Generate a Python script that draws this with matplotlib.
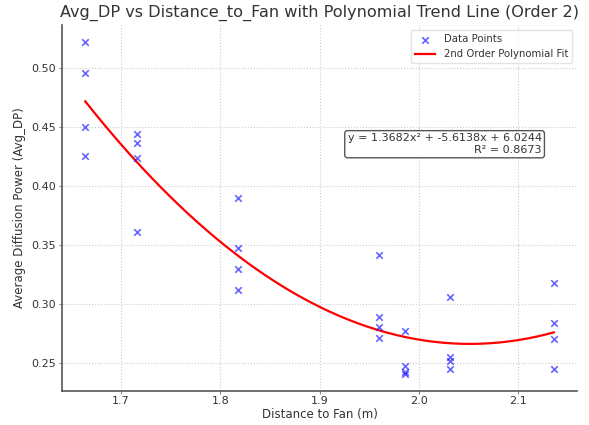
import numpy as np
import matplotlib
matplotlib.use("Agg")
import matplotlib.pyplot as plt

# Data
distance = [1.664, 1.664, 1.664, 1.664,
            1.716, 1.716, 1.716, 1.716,
            1.8175, 1.8175, 1.8175, 1.8175,
            1.960, 1.960, 1.960, 1.960,
            1.9866, 1.9866, 1.9866, 1.9866,
            2.0316, 2.0316, 2.0316, 2.0316,
            2.136, 2.136, 2.136, 2.136]
avg_dp = [0.522, 0.4955, 0.450, 0.425,
          0.4435, 0.4365, 0.4235, 0.361,
          0.3896, 0.3472, 0.3294, 0.3119,
          0.3415, 0.2887, 0.2806, 0.2713,
          0.2773, 0.2471, 0.2425, 0.2405,
          0.3056, 0.2547, 0.2514, 0.2443,
          0.3178, 0.2834, 0.2703, 0.2449]
coeffs = [1.3682, -5.6138, 6.0244]
r_squared = 0.8673

x_fit = np.linspace(min(distance), max(distance), 200)
y_fit = np.polyval(coeffs, x_fit)

fig = plt.figure(figsize=(5.89, 4.25), dpi=100)
ax = fig.add_axes([0.105, 0.081, 0.875, 0.86])

text_color = "#333333"
ax.scatter(distance, avg_dp, marker="x", color="blue", alpha=0.6, s=22,
           linewidths=1.2, label="Data Points", zorder=3)
ax.plot(x_fit, y_fit, color="red", lw=1.6, label="2nd Order Polynomial Fit", zorder=2)

ax.set_title("Avg_DP vs Distance_to_Fan with Polynomial Trend Line (Order 2)",
             fontsize=11.6, color=text_color, pad=6)
ax.set_xlabel("Distance to Fan (m)", fontsize=8.5, color=text_color, labelpad=1)
ax.set_ylabel("Average Diffusion Power (Avg_DP)", fontsize=8.5, color=text_color, labelpad=4)
ax.tick_params(labelsize=8, colors=text_color, length=2.5, pad=1.5, color="#888888")
ax.grid(True, linestyle=":", color="#cccccc", linewidth=0.8)
for s in ["top", "right"]:
    ax.spines[s].set_visible(False)
for s in ["left", "bottom"]:
    ax.spines[s].set_color("#555555")
    ax.spines[s].set_linewidth(1.2)

eq = f"y = {coeffs[0]:.4f}x\u00b2 + {coeffs[1]:.4f}x + {coeffs[2]:.4f}\nR\u00b2 = {r_squared:.4f}"
ax.text(0.931, 0.674, eq, transform=ax.transAxes, ha="right", va="center",
        multialignment="right", fontsize=8, color=text_color,
        bbox=dict(boxstyle="round,pad=0.25", facecolor="white", edgecolor="#555555"))

leg = ax.legend(loc="upper right", fontsize=7.3, frameon=True, bbox_to_anchor=(1.0, 1.0))
leg.get_frame().set_edgecolor("#dddddd")
for t in leg.get_texts():
    t.set_color(text_color)

fig.savefig("out.png", dpi=100)
